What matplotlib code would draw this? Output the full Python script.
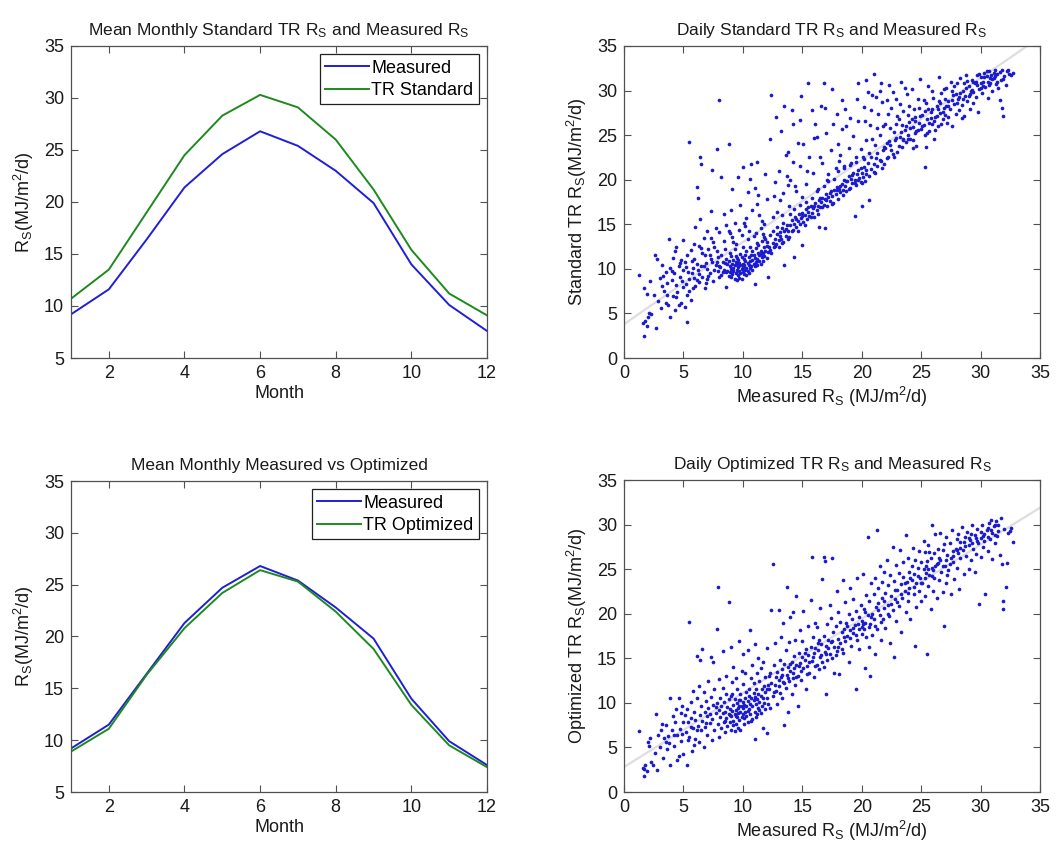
import matplotlib
matplotlib.use("Agg")
import matplotlib.pyplot as plt
import numpy as np

plt.rcParams['font.family'] = ['Liberation Sans', 'DejaVu Sans']
plt.rcParams['mathtext.fontset'] = 'custom'
plt.rcParams['mathtext.rm'] = 'Liberation Sans'
plt.rcParams['mathtext.it'] = 'Liberation Sans:italic'
plt.rcParams['mathtext.bf'] = 'Liberation Sans:bold'

# ---------------- data ----------------
months = [1, 2, 3, 4, 5, 6, 7, 8, 9, 10, 11, 12]
measured_std_panel = [9.2, 11.6, 16.4, 21.4, 24.6, 26.8, 25.4, 23.0, 19.9, 14.0, 10.1, 7.6]
tr_standard = [10.7, 13.5, 19.0, 24.5, 28.3, 30.3, 29.1, 26.0, 21.2, 15.4, 11.2, 9.1]
measured_opt_panel = [9.2, 11.5, 16.4, 21.3, 24.7, 26.8, 25.4, 22.8, 19.8, 14.0, 9.9, 7.6]
tr_optimized = [8.9, 11.1, 16.3, 20.8, 24.2, 26.4, 25.3, 22.4, 18.8, 13.4, 9.5, 7.4]

# fitted lines (end points)
fit_x = [0, 35]
fit_std_y = [3.8, 36.0]
fit_opt_y = [2.8, 31.9]

# daily points: (measured, standard TR)
std_points = [
    # x 1-5
    (1.3,9.3),(1.6,3.9),(1.7,2.5),(1.7,7.8),(1.8,4.2),(1.9,3.6),(1.9,7.2),(2.0,4.6),(2.1,5.1),(2.2,8.6),
    (2.3,4.9),(2.5,7.1),(2.6,11.5),(2.7,3.4),(2.8,11.1),(2.9,6.4),(3.0,9.0),(3.1,5.6),(3.2,8.1),(3.3,9.2),
    (3.4,7.5),(3.5,9.7),(3.5,6.2),(3.6,8.4),(3.7,5.9),(3.8,13.4),(3.9,4.6),(3.9,10.1),(4.0,8.7),(4.1,11.2),
    (4.1,7.0),(4.2,9.5),(4.3,5.4),(4.3,12.0),(4.4,12.5),(4.4,8.2),(4.5,7.4),(4.6,10.3),(4.6,5.9),(4.7,9.1),
    (4.8,6.2),(4.8,11.0),(4.9,8.6),(5.0,13.2),(5.0,9.9),
    (3.2,10.4),(3.6,7.1),(4.0,9.8),(4.4,6.8),(4.7,10.7),(5.0,8.0),(5.2,10.2),(5.5,7.5),(5.8,10.1),(6.1,8.7),
    (6.3,9.4),(6.7,10.3),(7.0,8.9),(7.2,11.6),(7.6,9.9),(7.8,10.8),(8.0,9.1),(6.5,12.3),(5.9,12.8),(7.3,13.5),
    # x 5-8
    (5.1,5.7),(5.1,10.8),(5.2,8.3),(5.3,4.0),(5.3,7.1),(5.3,11.6),(5.4,9.6),(5.5,24.2),(5.5,8.9),(5.6,12.1),
    (5.6,6.5),(5.7,9.5),(5.7,10.9),(5.8,7.8),(5.9,11.1),(5.9,9.0),(6.0,8.1),(6.0,14.7),(6.1,19.2),(6.1,10.5),
    (6.2,18.0),(6.2,9.9),(6.3,12.6),(6.3,8.5),(6.4,15.6),(6.4,22.5),(6.5,21.8),(6.5,10.3),(6.6,9.1),(6.6,11.8),
    (6.7,13.5),(6.8,11.5),(6.8,7.9),(6.9,8.4),(6.9,10.7),(7.0,10.0),(7.0,14.2),(7.1,12.2),(7.1,9.2),(7.2,9.5),
    (7.3,16.5),(7.3,11.1),(7.4,21.1),(7.4,10.8),(7.5,13.0),(7.5,8.6),(7.6,12.4),(7.7,10.4),(7.7,14.6),(7.8,23.5),
    (7.8,12.0),(7.9,9.8),(7.9,11.3),(8.0,28.9),(8.0,14.1),(8.0,10.3),
    # dense cluster x 8-12
    (8.1,10.2),(8.2,9.3),(8.2,11.5),(8.3,9.6),(8.3,10.8),(8.4,13.1),(8.4,9.9),(8.5,10.7),(8.5,12.2),(8.6,8.0),
    (8.6,9.7),(8.6,11.1),(8.7,9.8),(8.7,10.5),(8.8,14.2),(8.8,9.2),(8.8,10.9),(8.9,10.3),(8.9,9.6),(8.9,11.8),
    (9.0,11.4),(9.0,9.1),(9.0,10.0),(9.1,13.6),(9.1,10.6),(9.1,9.4),(9.2,10.1),(9.2,11.0),(9.2,9.8),(9.3,8.9),
    (9.3,10.4),(9.3,12.2),(9.4,10.8),(9.4,9.5),(9.4,11.4),(9.5,9.9),(9.5,10.5),(9.5,11.2),(9.5,8.7),(9.6,10.2),
    (9.6,9.3),(9.6,11.0),(9.7,9.0),(9.7,10.7),(9.7,14.4),(9.7,9.8),(9.8,10.4),(9.8,11.7),(9.8,9.5),(9.9,10.0),
    (9.9,11.3),(9.9,8.9),(10.0,10.6),(10.0,9.7),(10.0,12.5),(10.0,10.2),(10.1,9.4),(10.1,11.1),(10.1,10.4),(10.2,10.9),
    (10.2,9.9),(10.2,11.6),(10.3,10.1),(10.3,9.3),(10.3,12.0),(10.4,10.7),(10.4,9.8),(10.4,13.3),(10.5,10.4),(10.5,11.3),
    (10.5,9.5),(10.6,10.9),(10.6,10.1),(10.6,12.4),(10.7,11.5),(10.7,10.3),(10.8,9.9),(10.8,11.0),(10.8,12.0),(10.9,10.6),
    (10.9,11.6),(11.0,8.3),(11.0,10.3),(11.0,11.2),(11.1,10.8),(11.1,12.3),(11.2,11.1),(11.2,10.4),(11.3,11.8),(11.3,12.7),
    (11.4,10.9),(11.4,11.5),(11.5,12.0),(11.5,10.6),(11.6,11.3),(11.6,13.1),(11.7,11.8),(11.7,10.9),(11.8,12.4),(11.8,11.4),
    (11.9,12.0),(11.9,13.4),(12.0,11.2),(12.0,12.6),(12.1,9.1),(12.1,11.9),
    # upper scatter x 8-12
    (8.2,20.3),(8.4,16.1),(8.8,24.0),(8.9,14.0),(9.1,19.0),(9.2,13.0),(9.3,15.2),(9.4,12.8),(9.6,20.3),(9.8,17.2),
    (9.9,13.8),(10.0,21.4),(10.1,15.1),(10.3,15.7),(10.4,18.6),(10.5,14.3),(10.6,20.1),(10.7,21.8),(10.8,16.6),(10.9,13.7),
    (11.0,19.1),(11.1,14.0),(11.2,17.3),(11.3,18.3),(11.4,16.0),(11.5,14.6),(11.6,15.4),(11.8,15.0),(11.9,20.6),(12.0,17.8),
    (11.2,22.0),(10.2,14.8),(9.0,16.6),(8.6,14.9),(11.7,13.9),
    # ridge x 11-31
    (12.2,12.5),(12.3,13.8),(12.4,11.8),(12.5,12.9),(12.6,12.4),(12.7,13.3),(12.8,12.8),(12.9,13.9),(13.0,13.2),(13.0,12.5),
    (13.1,14.1),(13.2,13.4),(13.3,14.6),(13.4,13.0),(13.5,10.4),(13.5,14.2),(13.6,13.7),(13.7,14.9),(13.8,14.3),(13.9,13.6),
    (14.0,14.9),(14.1,15.5),(14.2,14.4),(14.3,11.3),(14.3,15.0),(14.4,15.8),(14.5,14.7),(14.6,15.4),(14.7,16.1),(14.8,15.0),
    (14.9,15.7),(15.0,12.7),(15.0,16.3),(15.1,15.3),(15.2,16.0),(15.3,16.7),(15.4,15.6),(15.5,16.4),(15.6,15.9),(15.7,17.0),
    (15.8,16.3),(15.9,16.8),(16.0,15.8),(16.1,17.4),(16.2,16.6),(16.3,17.1),(16.4,14.7),(16.4,17.7),(16.5,16.9),(16.6,17.5),
    (16.7,18.0),(16.8,17.2),(16.9,14.6),(16.9,17.8),(17.0,18.4),(17.1,17.0),(17.2,18.1),(17.3,17.6),(17.4,18.7),(17.5,18.2),
    (17.6,17.4),(17.7,18.9),(17.8,18.4),(17.9,19.2),(18.0,17.8),(18.1,19.0),(18.2,18.6),(18.3,19.5),(18.4,18.9),(18.5,20.0),
    (18.6,19.3),(18.7,18.7),(18.8,19.8),(18.9,20.4),(19.0,19.1),(19.1,20.1),(19.2,19.6),(19.3,20.7),(19.4,15.9),(19.4,20.0),
    (19.5,19.4),(19.6,20.6),(19.7,21.1),(19.8,20.2),(19.9,19.7),(20.0,20.8),(20.0,17.0),(20.1,20.3),(20.2,21.4),(20.3,19.8),
    (20.4,20.6),
    (11.2,12.9),(11.5,11.7),(11.8,13.6),(12.0,13.0),(12.3,12.1),(12.5,14.3),(12.7,12.6),(12.9,14.7),(13.1,13.7),(13.3,12.9),
    (13.4,15.2),(13.6,14.5),(13.8,13.4),(14.0,16.1),(14.1,14.3),(14.3,16.7),(14.5,15.6),(14.6,14.2),(14.8,17.2),(15.0,15.9),
    (15.2,14.9),(15.3,17.5),(15.5,16.9),(15.7,15.8),(15.8,18.0),(16.0,17.0),(16.2,18.7),(16.3,16.2),(16.5,17.9),(16.7,16.9),
    (16.8,19.3),(17.0,17.7),(17.2,19.8),(17.3,18.5),(17.5,17.3),(17.7,20.1),(17.9,18.8),(18.0,21.0),(18.2,19.3),(18.4,18.3),
    (18.5,21.3),(18.7,19.8),(18.9,19.0),(19.0,21.7),(19.2,20.5),(19.4,19.6),(19.5,22.0),(19.7,20.0),(19.9,21.3),(20.0,19.6),
    (20.2,22.3),(20.4,21.1),(20.6,20.4),(20.8,22.6),(21.0,21.8),(21.1,20.7),(21.3,23.0),(21.5,22.2),(21.7,21.3),(21.9,23.7),
    (22.1,22.4),(22.3,24.3),(22.5,23.3),(22.7,22.5),(22.9,24.7),(23.1,23.8),(23.3,25.4),(23.5,24.4),(23.7,26.0),(23.9,24.6),
    (24.1,25.8),(24.3,24.4),(24.5,26.6),(24.7,25.6),(24.9,27.1),(25.1,26.0),(25.3,27.7),(25.5,25.2),(25.7,26.4),(25.9,27.9),
    (26.1,26.6),(26.3,27.2),(26.6,28.6),(26.8,27.6),(27.0,29.0),(27.3,28.3),(27.6,28.9),(27.9,29.6),(28.2,29.3),(28.5,29.0),
    (28.8,30.3),(29.1,29.6),(29.4,31.0),(29.7,30.6),(30.0,30.9),(30.3,31.5),(30.7,30.6),(31.0,31.3),
    # upper scatter x 12-20
    (12.3,24.6),(12.4,29.5),(12.5,15.8),(12.6,18.2),(12.7,19.7),(12.8,27.0),(12.9,16.4),(13.0,21.0),(13.1,17.7),(13.2,25.5),
    (13.3,16.0),(13.4,18.5),(13.5,28.3),(13.6,22.8),(13.7,20.4),(13.8,23.1),(13.9,17.1),(14.0,20.0),(14.1,27.8),(14.2,26.3),
    (14.2,22.0),(14.4,19.3),(14.5,18.7),(14.6,24.1),(14.8,26.7),(14.8,21.5),(15.0,18.1),(15.1,24.0),(15.3,19.5),(15.5,30.8),
    (15.6,22.5),(15.8,27.8),(15.9,20.8),(16.0,24.7),(16.2,24.8),(16.3,19.0),(16.5,22.6),(16.6,28.3),(16.7,21.9),(16.8,30.8),
    (17.0,25.2),(17.1,20.0),(17.2,20.6),(17.4,23.3),(17.5,30.2),(17.6,26.3),(17.8,21.3),(18.0,24.0),(18.1,22.1),(18.2,22.8),
    (18.3,25.7),(18.3,28.9),(18.5,21.5),(18.7,26.0),(18.9,23.6),(19.0,26.9),(19.1,21.9),(19.3,24.9),(19.5,22.5),(19.6,29.1),
    (19.7,30.8),(19.7,26.6),(19.9,23.4),(14.9,29.4),(16.9,28.0),(17.9,27.4),(13.8,19.4),(15.4,21.0),(16.1,26.3),(18.6,27.9),
    # x 20-25
    (20.2,28.2),(20.4,31.2),(20.4,24.5),(20.5,21.9),(20.6,17.7),(20.6,23.0),(20.7,26.1),(20.8,21.2),(20.9,29.5),(21.0,31.9),
    (21.0,20.9),(21.1,23.9),(21.2,29.3),(21.2,22.4),(21.3,21.5),(21.4,27.4),(21.5,25.0),(21.6,22.1),(21.7,28.7),(21.8,23.3),
    (21.9,21.8),(22.0,26.2),(22.0,23.6),(22.1,24.1),(22.2,22.6),(22.3,30.6),(22.4,23.9),(22.5,28.0),(22.6,22.9),(22.7,25.3),
    (22.8,24.5),(22.9,29.0),(23.0,23.1),(23.0,27.2),(23.1,26.8),(23.2,24.8),(23.3,31.0),(23.4,23.7),(23.5,27.7),(23.6,25.6),
    (23.7,24.2),(23.8,29.6),(23.9,25.0),(24.0,26.5),(24.1,24.6),(24.2,30.2),(24.3,25.9),(24.4,27.9),(24.5,25.2),(24.6,23.8),
    (24.7,29.0),(24.8,26.4),(24.9,31.3),(25.0,25.7),(20.3,26.6),(20.9,24.6),(21.5,29.9),(21.8,26.0),(22.2,27.4),(22.6,29.8),
    (23.2,28.5),(23.6,30.3),(24.0,28.3),(24.5,27.0),(20.1,22.6),(20.8,27.8),(21.3,25.8),(22.4,25.8),(23.4,26.1),(24.3,23.6),
    (24.8,28.1),(21.6,30.8),(22.9,26.3),(23.9,27.3),(24.6,25.5),(20.5,29.8),(22.1,28.9),(23.5,24.6),(24.2,26.8),
    # x 25-33
    (25.1,27.3),(25.2,26.1),(25.3,21.4),(25.4,23.7),(25.4,28.6),(25.5,26.8),(25.6,30.5),(25.7,25.5),(25.8,27.6),(25.9,26.3),
    (26.0,29.2),(26.1,24.6),(26.2,27.0),(26.3,28.3),(26.4,26.0),(26.5,31.5),(26.6,27.5),(26.7,29.7),(26.8,26.8),(26.9,28.1),
    (27.0,27.3),(27.1,30.3),(27.2,26.4),(27.3,28.8),(27.4,27.9),(27.5,31.0),(27.6,26.0),(27.7,29.5),(27.8,28.5),(27.9,27.4),
    (28.0,30.8),(28.1,29.0),(28.2,27.8),(28.3,31.4),(28.4,28.4),(28.5,30.0),(28.6,27.2),(28.7,29.4),(28.8,31.7),(28.9,28.8),
    (29.0,30.5),(29.1,27.9),(29.2,29.9),(29.3,31.2),(29.4,28.6),(29.5,30.8),(29.6,29.3),(29.7,31.8),(29.8,27.6),(29.9,30.2),
    (30.0,31.5),(30.1,29.7),(30.2,31.0),(30.3,32.0),(30.4,30.4),(30.5,31.6),(30.6,29.2),(30.7,32.2),(30.8,30.9),(30.9,31.8),
    (31.0,30.0),(31.1,31.4),(31.2,32.3),(31.3,30.7),(31.4,31.9),(31.5,30.3),(31.6,28.9),(31.6,32.1),(31.7,31.2),(31.8,28.0),
    (31.8,32.3),(31.9,27.2),(32.0,31.6),(32.1,30.6),(32.2,32.2),(32.4,31.9),(32.6,31.8),(32.7,32.0),
    (25.2,28.9),(25.6,27.9),(25.9,29.9),(26.2,25.6),(26.5,28.8),(26.9,30.2),(27.3,27.0),(27.6,29.9),(28.0,28.6),(28.3,29.7),
    (28.6,30.9),(29.0,29.4),(29.3,30.1),(29.6,31.0),(29.9,31.9),(30.2,30.5),(30.5,32.2),(30.8,31.4),(31.1,32.0),(31.4,31.0),
    (25.3,25.0),(25.8,26.9),(26.4,27.9),(26.7,26.3),(27.1,28.3),(27.8,30.5),(28.4,26.9),(28.9,31.1),(29.4,29.8),(30.0,30.3),
    (30.6,31.0),(31.2,31.6),(31.9,31.3),(32.3,32.3),
]

# daily points: (measured, optimized TR)
opt_points = [
    # x 1-5
    (1.3,6.8),(1.6,2.7),(1.7,1.8),(1.7,2.6),(1.8,3.0),(1.9,2.4),(2.0,5.6),(2.1,5.2),(2.2,6.1),(2.3,3.4),
    (2.4,3.0),(2.6,4.4),(2.7,8.8),(2.8,2.5),(2.9,6.4),(3.0,5.0),(3.1,7.0),(3.2,7.6),(3.3,3.8),(3.4,6.1),
    (3.5,7.5),(3.6,4.8),(3.7,6.3),(3.8,5.5),(3.9,10.5),(3.9,3.0),(4.0,6.9),(4.1,8.5),(4.2,5.2),(4.3,7.8),
    (4.4,9.3),(4.5,3.6),(4.5,6.4),(4.6,10.5),(4.6,4.0),(4.7,7.1),(4.8,8.9),(4.8,5.7),(4.9,9.6),(5.0,7.8),(5.0,4.3),
    (3.5,5.6),(4.2,6.4),(4.9,6.5),(5.9,5.3),
    # x 5-8
    (5.1,8.6),(5.2,6.7),(5.3,3.0),(5.3,9.3),(5.4,5.8),(5.4,7.9),(5.5,19.1),(5.5,6.2),(5.6,10.1),(5.6,8.3),
    (5.7,4.6),(5.8,7.2),(5.8,11.3),(5.9,9.0),(6.0,6.0),(6.0,8.1),(6.1,15.3),(6.1,10.6),(6.2,7.4),(6.3,11.9),
    (6.3,5.6),(6.4,8.6),(6.4,14.8),(6.5,9.7),(6.5,6.9),(6.6,16.0),(6.6,8.0),(6.7,11.2),(6.7,5.0),(6.8,9.0),
    (6.8,7.3),(6.9,10.2),(7.0,8.5),(7.0,6.4),(7.1,12.4),(7.1,9.4),(7.2,7.7),(7.3,15.2),(7.3,10.7),(7.4,8.2),
    (7.4,5.8),(7.5,9.8),(7.5,14.6),(7.6,7.0),(7.6,11.5),(7.7,8.9),(7.8,18.3),(7.8,10.0),(7.9,23.0),(7.9,7.6),
    (8.0,12.7),(8.0,9.2),(8.0,6.2),
    (7.2,8.8),(6.9,7.7),(6.1,7.0),(5.6,7.3),(7.7,9.5),
    # dense cluster x 8-12
    (8.1,8.4),(8.1,10.5),(8.2,7.2),(8.2,9.6),(8.3,8.9),(8.3,11.7),(8.4,7.8),(8.4,10.1),(8.5,9.0),(8.5,6.7),
    (8.6,8.3),(8.6,11.0),(8.7,9.5),(8.7,7.4),(8.8,21.3),(8.8,8.8),(8.8,10.4),(8.9,7.9),(8.9,9.3),(9.0,8.5),
    (9.0,10.8),(9.0,7.0),(9.1,9.1),(9.1,12.3),(9.2,8.0),(9.2,9.8),(9.3,8.7),(9.3,10.4),(9.3,6.8),(9.4,9.2),
    (9.4,7.6),(9.5,8.4),(9.5,10.0),(9.5,11.6),(9.6,9.4),(9.6,7.2),(9.6,8.9),(9.7,10.3),(9.7,8.1),(9.8,9.0),
    (9.8,11.0),(9.8,7.0),(9.9,9.6),(9.9,8.4),(10.0,10.1),(10.0,8.8),(10.0,9.4),(10.0,12.1),(10.1,9.8),(10.1,7.6),
    (10.2,10.5),(10.2,9.0),(10.3,8.5),(10.3,11.2),(10.3,9.7),(10.4,10.2),(10.4,7.9),(10.5,9.3),(10.5,10.8),(10.6,8.8),
    (10.6,9.9),(10.7,10.6),(10.7,12.8),(10.8,9.6),(10.8,8.2),(10.9,10.3),(10.9,11.1),(11.0,9.0),(11.0,10.7),(11.0,5.9),
    (11.1,9.9),(11.1,11.6),(11.2,8.7),(11.2,10.4),(11.3,9.4),(11.3,11.0),(11.4,10.1),(11.4,12.5),(11.5,8.9),(11.5,10.8),
    (11.6,11.5),(11.6,9.6),(11.7,10.5),(11.7,7.2),(11.8,11.9),(11.8,10.0),(11.9,9.3),(11.9,11.2),(12.0,10.6),(12.0,6.6),
    (12.1,12.0),(12.1,9.9),
    (8.5,8.0),(8.9,8.6),(9.2,7.5),(9.4,8.5),(9.7,9.6),(10.1,8.3),(10.4,9.1),(10.7,8.0),(11.1,8.4),(11.4,9.2),
    (9.1,11.0),(9.8,10.3),(10.5,11.5),
    (8.3,15.8),(8.6,13.0),(9.0,16.3),(9.2,14.0),(9.4,12.8),(9.7,16.9),(10.0,15.5),(10.2,13.3),(10.4,15.9),(10.6,18.2),
    (10.8,14.2),(11.0,16.6),(11.2,13.4),(11.3,15.0),(11.5,13.9),(11.7,14.6),(11.9,12.9),(12.0,16.1),(10.9,12.2),(9.9,13.6),
    # x 12-20
    (12.2,11.6),(12.3,13.4),(12.3,9.4),(12.4,20.4),(12.4,12.2),(12.5,25.6),(12.5,10.8),(12.6,14.2),(12.7,12.0),(12.7,16.7),
    (12.8,11.3),(12.9,13.5),(12.9,9.9),(13.0,20.4),(13.0,12.6),(13.1,14.8),(13.1,11.1),(13.2,12.9),(13.2,17.4),(13.3,13.8),
    (13.3,10.5),(13.4,19.0),(13.4,12.3),(13.5,14.4),(13.5,7.5),(13.6,11.7),(13.6,15.9),(13.7,13.1),(13.7,23.0),(13.8,14.0),
    (13.8,9.0),(13.9,12.5),(13.9,16.8),(14.0,13.6),(14.0,19.6),(14.1,14.6),(14.1,11.0),(14.2,12.8),(14.2,20.2),(14.3,15.3),
    (14.3,13.9),(14.4,12.0),(14.4,17.0),(14.5,14.2),(14.5,22.0),(14.6,13.0),(14.6,9.6),(14.7,15.6),(14.8,14.5),(14.8,18.2),
    (14.9,12.6),(15.0,15.1),(15.0,16.9),(15.1,13.9),(15.1,20.3),(15.2,14.8),(15.3,11.6),(15.3,16.0),(15.4,14.1),(15.5,18.6),
    (15.5,15.4),(15.6,13.4),(15.7,16.3),(15.7,21.5),(15.8,26.4),(15.8,14.7),(15.9,17.4),(16.0,15.6),(16.0,12.9),(16.1,19.0),
    (16.1,16.2),(16.2,14.2),(16.2,18.5),(16.3,15.9),(16.4,17.0),(16.4,13.8),(16.5,20.6),(16.5,15.2),(16.6,16.6),(16.7,23.9),
    (16.7,14.6),(16.8,26.4),(16.8,17.5),(16.9,15.7),(16.9,25.9),(17.0,11.0),(17.0,16.4),(17.1,18.9),(17.1,14.8),(17.2,17.1),
    (17.3,15.5),(17.3,21.0),(17.4,16.8),(17.4,19.5),(17.5,26.2),(17.5,15.0),(17.6,17.9),(17.7,13.3),(17.7,16.3),(17.8,18.6),
    (17.9,15.8),(17.9,22.5),(18.0,17.2),(18.0,20.2),(18.1,13.2),(18.2,16.7),(18.2,19.1),(18.3,17.9),(18.4,23.8),(18.4,15.6),
    (18.5,18.3),(18.6,16.9),(18.6,21.3),(18.7,19.0),(18.8,17.5),(18.9,14.6),(18.9,20.0),(19.0,18.2),(19.0,22.9),(19.1,16.4),
    (19.2,19.4),(19.3,17.8),(19.3,21.6),(19.4,18.7),(19.5,11.6),(19.5,20.3),(19.6,17.1),(19.6,24.0),(19.7,18.9),(19.8,19.6),
    (19.8,16.0),(19.9,21.0),(20.0,18.5),(20.0,19.2),(20.1,18.9),(20.1,24.5),(20.2,18.3),(20.2,20.5),
    (12.0,11.5),(12.2,13.0),(12.6,11.2),(12.8,12.9),(13.0,11.9),(13.3,13.1),(13.5,12.2),(13.8,12.8),(14.0,14.4),(14.2,13.3),
    (14.5,12.9),(14.7,14.1),(14.9,13.6),(15.2,15.6),(15.4,13.2),(15.6,14.6),(15.9,15.1),(16.1,14.1),(16.3,16.7),(16.6,15.4),
    (16.8,14.0),(17.0,15.5),(17.2,16.2),(17.5,16.9),(17.8,15.4),(18.0,16.3),(18.3,16.0),(18.5,17.4),(18.8,18.6),(19.0,17.3),
    (19.3,18.4),(19.5,17.6),(19.8,18.3),(20.0,17.7),
    # x 20-25
    (20.3,19.0),(20.3,13.9),(20.4,22.1),(20.4,17.4),(20.5,19.8),(20.5,28.6),(20.6,16.3),(20.6,21.4),(20.7,13.0),(20.7,18.8),
    (20.8,23.4),(20.9,20.0),(20.9,17.6),(21.0,22.2),(21.0,19.4),(21.1,15.5),(21.1,24.0),(21.2,20.8),(21.3,29.4),(21.3,18.3),
    (21.4,22.9),(21.4,21.2),(21.5,19.9),(21.5,25.3),(21.6,17.0),(21.7,21.8),(21.7,23.6),(21.8,19.4),(21.9,24.7),(21.9,20.6),
    (22.0,22.3),(22.0,18.4),(22.1,26.0),(22.2,21.0),(22.2,23.2),(22.3,19.7),(22.4,24.3),(22.4,16.7),(22.5,22.0),(22.6,27.5),
    (22.6,20.4),(22.7,15.1),(22.7,23.7),(22.8,21.6),(22.9,25.5),(22.9,19.2),(23.0,22.7),(23.1,24.6),(23.1,20.9),(23.2,27.1),
    (23.3,23.3),(23.3,18.0),(23.4,21.8),(23.5,25.8),(23.5,24.1),(23.6,22.5),(23.7,28.8),(23.7,20.2),(23.8,23.6),(23.9,26.2),
    (23.9,21.4),(24.0,24.7),(24.0,22.9),(24.1,19.4),(24.2,25.3),(24.2,23.8),(24.3,27.4),(24.4,22.2),(24.4,24.4),(24.5,16.4),
    (24.5,26.0),(24.6,23.4),(24.6,20.7),(24.7,25.1),(24.8,27.0),(24.8,22.6),(24.9,24.0),(25.0,21.4),(25.0,25.8),
    (20.3,20.2),(20.6,18.5),(20.8,19.6),(21.1,18.6),(21.4,20.4),(21.6,19.1),(21.9,21.4),(22.2,20.0),(22.5,21.1),(22.8,22.7),
    (23.0,21.3),(23.3,22.2),(23.6,23.4),(23.9,22.3),(24.1,24.0),(24.4,23.0),(24.7,24.2),(25.0,23.4),
    # x 25-33
    (25.1,23.5),(25.2,28.2),(25.2,25.0),(25.3,26.9),(25.3,22.0),(25.4,24.6),(25.5,15.5),(25.5,25.9),(25.6,23.1),(25.6,27.7),
    (25.7,24.3),(25.8,26.3),(25.8,20.5),(25.9,30.0),(25.9,25.1),(26.0,22.6),(26.1,26.8),(26.1,24.0),(26.2,28.9),(26.3,25.6),
    (26.3,21.8),(26.4,27.3),(26.5,23.8),(26.6,26.0),(26.6,29.1),(26.7,24.7),(26.8,22.4),(26.9,18.6),(26.9,27.8),(27.0,25.4),
    (27.1,28.6),(27.1,23.4),(27.2,26.6),(27.3,24.9),(27.4,27.9),(27.5,22.2),(27.5,26.2),(27.6,29.4),(27.7,25.8),(27.8,23.9),
    (27.9,27.3),(28.0,28.4),(28.0,25.1),(28.1,26.8),(28.2,22.8),(28.3,28.0),(28.3,26.2),(28.4,29.7),(28.5,27.1),(28.6,24.4),
    (28.7,28.6),(28.8,26.5),(28.9,29.2),(29.0,27.7),(29.0,25.0),(29.1,28.3),(29.2,26.0),(29.3,30.0),(29.4,27.3),(29.5,28.8),
    (29.5,24.7),(29.6,26.7),(29.7,29.5),(29.8,27.9),(29.9,21.1),(30.0,28.5),(30.0,26.4),(30.1,29.9),(30.2,27.5),(30.3,28.9),
    (30.4,22.2),(30.5,29.4),(30.6,27.0),(30.7,30.2),(30.8,28.4),(30.9,30.5),(31.0,29.0),(31.0,26.1),(31.1,29.8),(31.2,27.9),
    (31.3,30.4),(31.4,28.7),(31.5,29.3),(31.6,26.6),(31.7,30.7),(31.8,25.6),(31.9,20.5),(31.9,21.4),(32.0,29.5),(32.1,23.0),
    (32.2,25.7),(32.3,29.0),(32.5,29.3),(32.7,28.0),(32.6,29.6),
    (25.4,25.3),(25.7,26.9),(26.0,24.9),(26.4,25.7),(26.8,27.1),(27.2,24.3),(27.7,27.0),(28.1,28.9),(28.6,28.1),(29.2,28.9),
    (29.7,28.2),(30.2,28.7),(30.6,29.6),(31.2,30.0),
    (25.3,24.0),(25.6,25.0),(25.9,24.2),(26.2,25.3),(26.5,26.3),(26.8,25.3),(27.1,26.0),(27.4,25.6),(27.7,26.5),(28.0,27.2),
    (28.3,27.4),(28.7,27.6),(29.0,28.5),(29.3,27.9),(29.6,28.5),(30.0,29.2),(30.3,28.2),(30.6,28.6),(30.9,29.4),(31.2,28.8),
    (31.5,30.0),
]

# ---------------- styling ----------------
BLUE = '#1f1fd6'
GREEN = '#1e8a1e'
DOT = '#1a1acf'
SPINE = '#505050'
TXT = '#1a1a1a'
FS_TICK = 13
FS_LABEL = 13
FS_TITLE = 12.5
FS_LEG = 13

fig = plt.figure(figsize=(10.6, 8.47), dpi=100)
W, H = 1060, 847
def add_ax(x0, y0top, x1, y1bot):
    return fig.add_axes([x0 / W, 1 - y1bot / H, (x1 - x0) / W, (y1bot - y0top) / H])

ax1 = add_ax(71, 46, 487, 358)
ax2 = add_ax(624, 46, 1040, 358)
ax3 = add_ax(71, 481, 487, 792)
ax4 = add_ax(624, 480, 1040, 792)

def style(ax):
    for s in ax.spines.values():
        s.set_color(SPINE)
        s.set_linewidth(0.9)
    ax.tick_params(direction='in', length=5, width=0.8, color=SPINE, top=True, right=True,
                   labelsize=FS_TICK, labelcolor=TXT, pad=5)

RS = r'R$_\mathrm{S}$'
UNIT = r'(MJ/m$^2$/d)'

# ---- line panels ----
for ax, m, tr, lab, title in [
    (ax1, measured_std_panel, tr_standard, 'TR Standard',
     'Mean Monthly Standard TR ' + RS + ' and Measured ' + RS),
    (ax3, measured_opt_panel, tr_optimized, 'TR Optimized',
     'Mean Monthly Measured vs Optimized'),
]:
    ax.plot(months, m, color=BLUE, lw=1.4, label='Measured')
    ax.plot(months, tr, color=GREEN, lw=1.4, label=lab)
    ax.set_xlim(1, 12)
    ax.set_ylim(5, 35)
    ax.set_xticks([2, 4, 6, 8, 10, 12])
    ax.set_yticks([5, 10, 15, 20, 25, 30, 35])
    style(ax)
    ax.set_xlabel('Month', fontsize=FS_LABEL, color=TXT, labelpad=2)
    ax.set_ylabel(RS + UNIT, fontsize=FS_LABEL, color=TXT, labelpad=6)
    ax.set_title(title, fontsize=FS_TITLE, color=TXT, pad=8)
    leg = ax.legend(loc='upper right', fontsize=FS_LEG, frameon=True, fancybox=False,
                    edgecolor='#202020', framealpha=1, handlelength=2.4, handletextpad=0.15,
                    borderaxespad=0.45, borderpad=0.3, labelspacing=0.3)
    leg.get_frame().set_linewidth(0.9)

# ---- scatter panels ----
for ax, pts, fy, ylab, title in [
    (ax2, std_points, fit_std_y, 'Standard TR ' + RS + UNIT,
     'Daily Standard TR ' + RS + ' and Measured ' + RS),
    (ax4, opt_points, fit_opt_y, 'Optimized TR ' + RS + UNIT,
     'Daily Optimized TR ' + RS + ' and Measured ' + RS),
]:
    arr = np.array(pts)
    ax.plot(fit_x, fy, color='#dedede', lw=1.6, zorder=1)
    ax.scatter(arr[:, 0], arr[:, 1], s=7, color=DOT, linewidths=0, zorder=2)
    ax.set_xlim(0, 35)
    ax.set_ylim(0, 35)
    ax.set_xticks(range(0, 36, 5))
    ax.set_yticks(range(0, 36, 5))
    style(ax)
    ax.set_xlabel('Measured ' + RS + ' ' + UNIT, fontsize=FS_LABEL, color=TXT, labelpad=2)
    ax.set_ylabel(ylab, fontsize=FS_LABEL, color=TXT, labelpad=6)
    ax.set_title(title, fontsize=FS_TITLE, color=TXT, pad=8)

fig.savefig('out.png', dpi=100, facecolor='white')
